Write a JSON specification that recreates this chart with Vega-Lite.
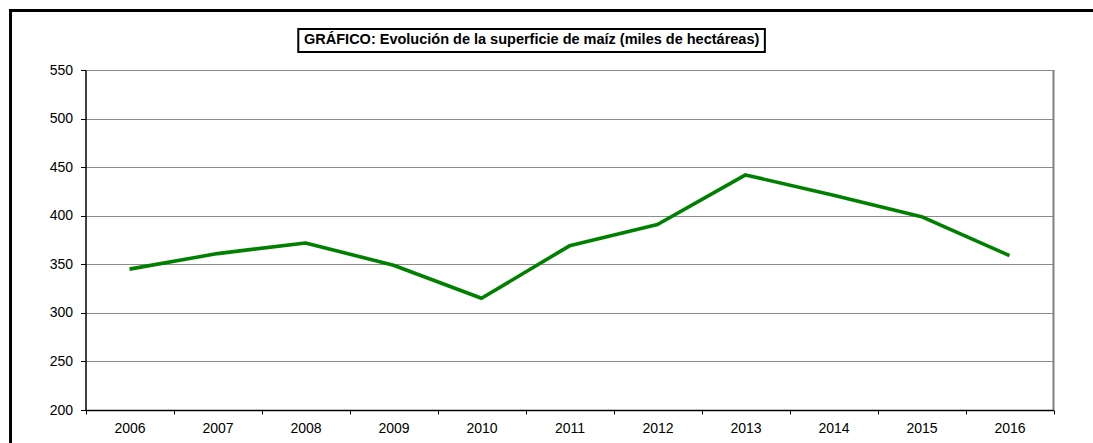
{
  "$schema": "https://vega.github.io/schema/vega-lite/v6.json",
  "width": 1082,
  "height": 432,
  "autosize": {"type": "none"},
  "padding": {"left": 11, "top": 11, "right": 0, "bottom": 0},
  "background": "white",
  "view": {"stroke": null, "fill": "white"},
  "config": {
    "font": "Liberation Sans"
  },
  "datasets": {
    "maiz": [
      {"year": "2006", "value": 345},
      {"year": "2007", "value": 361},
      {"year": "2008", "value": 372},
      {"year": "2009", "value": 349},
      {"year": "2010", "value": 315},
      {"year": "2011", "value": 369},
      {"year": "2012", "value": 391},
      {"year": "2013", "value": 442},
      {"year": "2014", "value": 421},
      {"year": "2015", "value": 399},
      {"year": "2016", "value": 359}
    ],
    "one": [{}]
  },
  "layer": [
    {
      "data": {"name": "maiz"},
      "mark": {"type": "line", "color": "#008000", "strokeWidth": 3.6, "strokeJoin": "round"},
      "encoding": {
        "x": {
          "field": "year", "type": "ordinal",
          "scale": {"type": "band", "paddingInner": 0, "paddingOuter": 0, "range": [74.5, 1042.5]},
          "axis": {
            "title": null, "labelAngle": 0, "tickBand": "extent", "tickSize": 4,
            "labelPadding": 7, "domainColor": "black", "domainWidth": 1.5,
            "tickColor": "black", "tickWidth": 1, "labelFontSize": 14, "labelColor": "black",
            "offset": -33, "grid": false
          }
        },
        "y": {
          "field": "value", "type": "quantitative",
          "scale": {"domain": [200, 550], "nice": false, "zero": false, "range": [399, 59]},
          "axis": {
            "title": null, "values": [200, 250, 300, 350, 400, 450, 500, 550],
            "offset": -74.5, "tickSize": 5, "labelPadding": 8,
            "grid": true, "gridColor": "#8c8c8c", "gridWidth": 1,
            "domainColor": "black", "domainWidth": 1.5, "tickColor": "black",
            "labelFontSize": 14, "labelColor": "black"
          }
        }
      }
    },
    {
      "data": {"name": "one"},
      "mark": {"type": "rule", "color": "#808080", "strokeWidth": 2},
      "encoding": {
        "x": {"datum": "2016", "type": "ordinal", "bandPosition": 1},
        "y": {"datum": 200, "type": "quantitative"},
        "y2": {"datum": 550}
      }
    },
    {
      "data": {"name": "one"},
      "mark": {"type": "rule", "color": "black", "strokeWidth": 3, "strokeCap": "square"},
      "encoding": {
        "x": {"datum": "2006", "type": "ordinal", "bandPosition": -0.852},
        "x2": {"datum": "2016", "bandPosition": 1.6},
        "y": {"datum": 611.25, "type": "quantitative"}
      }
    },
    {
      "data": {"name": "one"},
      "mark": {"type": "rule", "color": "black", "strokeWidth": 3, "strokeCap": "square"},
      "encoding": {
        "x": {"datum": "2006", "type": "ordinal", "bandPosition": -0.852},
        "y": {"datum": 611.25, "type": "quantitative"},
        "y2": {"datum": 150}
      }
    },
    {
      "data": {"name": "one"},
      "mark": {"type": "rect", "fill": "white", "stroke": "black", "strokeWidth": 2},
      "encoding": {
        "x": {"datum": "2008", "type": "ordinal", "bandPosition": 0.418},
        "x2": {"datum": "2013", "bandPosition": 0.72},
        "y": {"datum": 592.2, "type": "quantitative"},
        "y2": {"datum": 568.5}
      }
    },
    {
      "data": {"name": "one"},
      "mark": {"type": "text", "fontWeight": "bold", "fontSize": 14.5, "color": "black", "align": "center", "baseline": "middle", "font": "Liberation Sans"},
      "encoding": {
        "x": {"datum": "2011", "type": "ordinal", "bandPosition": 0.07},
        "y": {"datum": 580.4, "type": "quantitative"},
        "text": {"value": "GRÁFICO: Evolución de la superficie de maíz (miles de hectáreas)"}
      }
    }
  ]
}
